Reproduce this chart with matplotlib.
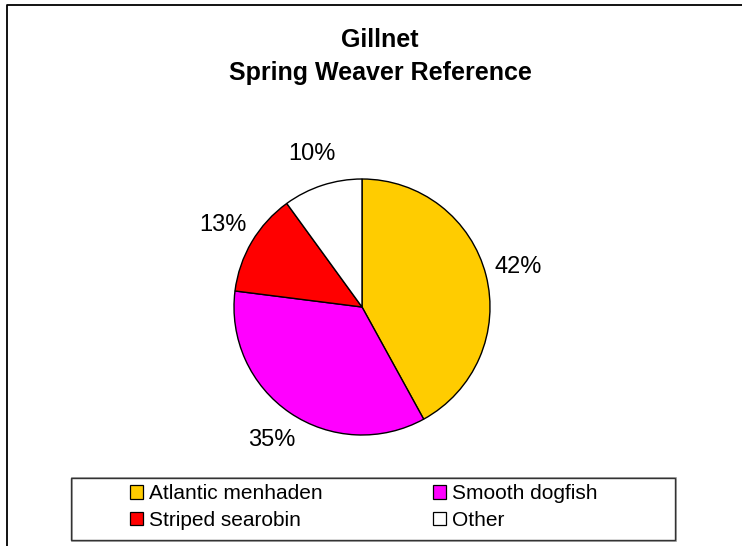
import matplotlib
matplotlib.use('Agg')
import matplotlib.pyplot as plt
from matplotlib.patches import Rectangle, Patch
from matplotlib.lines import Line2D

plt.rcParams['font.family'] = ['Liberation Sans', 'DejaVu Sans']

species = ['Atlantic menhaden', 'Smooth dogfish', 'Striped searobin', 'Other']
percent = [42, 35, 13, 10]
colors = ['#FFCC00', '#FF00FF', '#FF0000', '#FFFFFF']
title_lines = ['Gillnet', 'Spring Weaver Reference']

W, H = 742, 546
fig = plt.figure(figsize=(W / 100, H / 100), dpi=100)


def fx(px):
    return px / W


def fy(py):
    return 1 - py / H


# outer chart frame (right/bottom edges fall outside the picture)
fig.add_artist(Line2D([fx(7), fx(7), fx(W + 5)], [fy(H + 5), fy(5), fy(5)],
                      color='black', linewidth=1.3, transform=fig.transFigure))

# title
fig.text(fx(380), fy(40), title_lines[0], ha='center', va='center',
         fontsize=18, fontweight='bold')
fig.text(fx(380), fy(73), title_lines[1], ha='center', va='center',
         fontsize=18, fontweight='bold')

# pie
cx, cy, r = 362, 307, 128
ax = fig.add_axes([fx(cx - r), fy(cy + r), 2 * r / W, 2 * r / H])
wedges, texts, autotexts = ax.pie(
    percent, colors=colors, startangle=90, counterclock=False,
    autopct='%1.0f%%', pctdistance=1.26,
    wedgeprops=dict(edgecolor='black', linewidth=1.0),
    textprops=dict(fontsize=17))
ax.set_xlim(-1, 1)
ax.set_ylim(-1, 1)
ax.set_aspect('equal')
ax.axis('off')

# legend box
fig.add_artist(Rectangle((fx(72), fy(541)), fx(676) - fx(72), fy(478) - fy(541),
                         facecolor='none', edgecolor='#999999', linewidth=1.2,
                         transform=fig.transFigure))
fig.add_artist(Rectangle((fx(71), fy(540)), fx(675) - fx(71), fy(478) - fy(540),
                         facecolor='none', edgecolor='#333333', linewidth=1.0,
                         transform=fig.transFigure))

# legend reads row by row, matplotlib fills columns first
order = [0, 2, 1, 3]
handles = [Patch(facecolor=colors[i], edgecolor='black', linewidth=0.9) for i in order]
labels = [species[i] for i in order]
fig.legend(handles, labels, ncol=2, frameon=False, fontsize=15,
           loc='center left', bbox_to_anchor=(fx(120), fy(507)),
           borderpad=0, handlelength=0.6, handleheight=0.6, handletextpad=0.3,
           columnspacing=5.3, labelspacing=0.35)

fig.savefig('out.png', dpi=100)
